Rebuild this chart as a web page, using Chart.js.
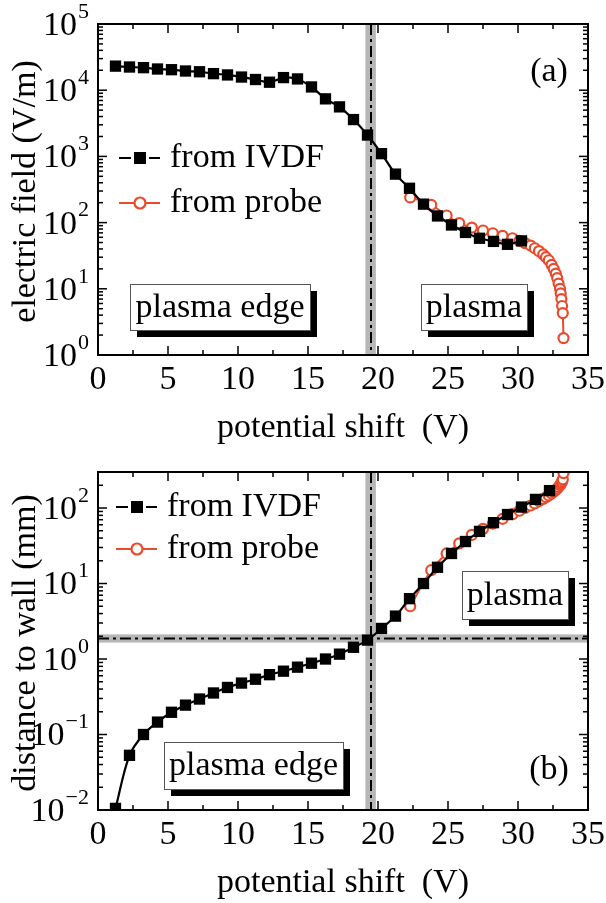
<!DOCTYPE html>
<html>
<head>
<meta charset="utf-8">
<title>electric field and distance to wall vs potential shift</title>
<script src="https://cdn.jsdelivr.net/npm/chart.js@4.4.1/dist/chart.umd.min.js"></script>
<style>
  html, body { margin: 0; padding: 0; background: #fff; }
  canvas { display: block; }
</style>
</head>
<body>
<canvas id="chartA" width="606" height="450"></canvas>
<canvas id="chartB" width="606" height="453"></canvas>
<script>
// ---- data ----
// (a) electric field from the IVDF
const ivdfShiftA = [1.25, 2.25, 3.25, 4.25, 5.25, 6.25, 7.25, 8.25, 9.25, 10.25,
  11.25, 12.25, 13.25, 14.25, 15.25, 16.25, 17.25, 18.25, 19.25, 20.25,
  21.25, 22.25, 23.25, 24.25, 25.25, 26.25, 27.25, 28.25, 29.25, 30.25];
const ivdfField = [23100, 22400, 21900, 20900, 20400, 19500, 19000, 17800, 17000, 15800,
  14500, 13200, 15500, 14800, 11200, 7400, 5600, 3600, 2100, 1100,
  540, 330, 190, 126, 92, 71, 58, 52, 47, 53];

// (b) distance to wall from the IVDF
const ivdfShiftB = [1.25, 2.25, 3.25, 4.25, 5.25, 6.25, 7.25, 8.25, 9.25, 10.25,
  11.25, 12.25, 13.25, 14.25, 15.25, 16.25, 17.25, 18.25, 19.25, 20.25,
  21.25, 22.25, 23.25, 24.25, 25.25, 26.25, 27.25, 28.25, 29.25, 30.25,
  31.25, 32.25];
const ivdfDist = [0.0105, 0.053, 0.10, 0.146, 0.197, 0.245, 0.295, 0.355, 0.42, 0.48,
  0.54, 0.62, 0.69, 0.78, 0.88, 1.0, 1.16, 1.43, 1.78, 2.54,
  3.7, 6.3, 10, 16.4, 25, 36, 49, 64, 82, 103,
  130, 170];

// probe data (same potential shift for both panels)
const probeShift = [22.3, 23.8, 24.9, 25.8, 26.7, 27.5, 28.2, 28.9, 29.6, 30.1,
  30.5, 30.9, 31.2, 31.5, 31.8, 32.0, 32.2, 32.4, 32.55, 32.7,
  32.8, 32.9, 33.0, 33.05, 33.1, 33.15, 33.2, 33.25];
const probeField = [240, 185, 128, 98, 84, 76, 69, 63, 58, 53,
  49, 45, 41, 37, 33, 30, 27, 23, 20, 17,
  14.5, 12, 10, 8.5, 7, 5.5, 4.3, 1.8];
const probeDist = [5.0, 15, 25, 34, 44, 53, 62, 72, 83, 92,
  100, 108, 115, 123, 132, 139, 147, 156, 164, 173,
  181, 190, 200, 208, 216, 226, 240, 290];

// sheath edge markers
const edgeShift = 19.5;
const edgeShiftBand = [19.1, 19.85];
const edgeDist = 1.87;
const edgeDistBand = [1.65, 2.12];

const xTickLabels = [0, 5, 10, 15, 20, 25, 30, 35];
const fieldDecades = [0, 1, 2, 3, 4, 5];
const distDecades = [-2, -1, 0, 1, 2];

// ---- drawing ----
const FONT = '"Liberation Serif", "Times New Roman", serif';
const RED = '#ea4a2c';
const BAND = '#b7b7b7';

const pts = (xs, ys) => xs.map((x, i) => ({x: x, y: ys[i]}));

function seg(ctx, x1, y1, x2, y2) {
  ctx.beginPath(); ctx.moveTo(x1, y1); ctx.lineTo(x2, y2); ctx.stroke();
}

function drawFrame(chart, decades) {
  const {ctx, chartArea: a, scales: {x, y}} = chart;
  ctx.save();
  ctx.strokeStyle = '#000';
  ctx.lineWidth = 1.5;
  for (let v = 0; v <= 35; v += 2.5) {
    const px = x.getPixelForValue(v);
    const len = v % 5 === 0 ? 9 : 5;
    seg(ctx, px, a.bottom, px, a.bottom - len);
    seg(ctx, px, a.top, px, a.top + len);
  }
  const d0 = decades[0], d1 = decades[decades.length - 1];
  for (let d = d0; d <= d1 + 1; d++) {
    for (let m = 1; m <= 9; m++) {
      const v = m * Math.pow(10, d);
      if (v < y.min * 0.999 || v > y.max * 1.001) continue;
      const py = y.getPixelForValue(v);
      const len = m === 1 ? 9 : 5;
      seg(ctx, a.left, py, a.left + len, py);
      seg(ctx, a.right, py, a.right - len, py);
    }
  }
  ctx.lineWidth = 2;
  ctx.strokeRect(a.left, a.top, a.right - a.left, a.bottom - a.top);

  // tick labels
  ctx.fillStyle = '#000';
  ctx.font = '34px ' + FONT;
  ctx.textAlign = 'center';
  ctx.textBaseline = 'middle';
  xTickLabels.forEach(v => {
    ctx.fillText(String(v), x.getPixelForValue(v), a.bottom + 25);
  });
  decades.forEach(d => {
    const py = y.getPixelForValue(Math.pow(10, d));
    const sup = d < 0 ? '\u2212' + (-d) : String(d);
    ctx.font = '22px ' + FONT;
    const sw = ctx.measureText(sup).width;
    const right = a.left - 9;
    ctx.textAlign = 'left';
    ctx.fillText(sup, right - sw, py - 12);
    ctx.font = '34px ' + FONT;
    ctx.textAlign = 'right';
    ctx.fillText('10', right - sw - 1, py + 2);
  });
  ctx.restore();
}

function drawTitles(chart, yTitle) {
  const {ctx, chartArea: a} = chart;
  ctx.save();
  ctx.fillStyle = '#000';
  ctx.font = '34px ' + FONT;
  ctx.textAlign = 'center';
  ctx.textBaseline = 'middle';
  ctx.fillText('potential shift  (V)', (a.left + a.right) / 2, a.bottom + 73);
  ctx.translate(26, (a.top + a.bottom) / 2 + 2);
  ctx.rotate(-Math.PI / 2);
  ctx.fillText(yTitle, 0, 0);
  ctx.restore();
}

function textBox(ctx, x1, y1, x2, y2, text) {
  ctx.save();
  ctx.fillStyle = '#000';
  ctx.fillRect(x1 + 7, y1 + 7, x2 - x1, y2 - y1);
  ctx.fillStyle = '#fff';
  ctx.fillRect(x1, y1, x2 - x1, y2 - y1);
  ctx.strokeStyle = '#555';
  ctx.lineWidth = 1;
  ctx.strokeRect(x1 + 0.5, y1 + 0.5, x2 - x1, y2 - y1);
  ctx.fillStyle = '#000';
  ctx.font = '34px ' + FONT;
  ctx.textAlign = 'center';
  ctx.textBaseline = 'middle';
  ctx.fillText(text, (x1 + x2) / 2, (y1 + y2) / 2 + 1);
  ctx.restore();
}

function legend(ctx, x, y1, y2) {
  ctx.save();
  ctx.lineWidth = 2;
  ctx.strokeStyle = '#000';
  seg(ctx, x, y1, x + 12, y1);
  seg(ctx, x + 30, y1, x + 41, y1);
  ctx.fillStyle = '#000';
  ctx.fillRect(x + 15, y1 - 6, 12, 12);
  ctx.strokeStyle = RED;
  seg(ctx, x, y2, x + 41, y2);
  ctx.beginPath();
  ctx.arc(x + 21, y2, 5.5, 0, Math.PI * 2);
  ctx.fillStyle = '#fff';
  ctx.fill();
  ctx.lineWidth = 2.2;
  ctx.stroke();
  ctx.fillStyle = '#000';
  ctx.font = '34px ' + FONT;
  ctx.textAlign = 'left';
  ctx.textBaseline = 'middle';
  ctx.fillText('from IVDF', x + 51, y1);
  ctx.fillText('from probe', x + 51, y2);
  ctx.restore();
}

function dashLine(ctx, x1, y1, x2, y2) {
  ctx.save();
  ctx.strokeStyle = '#000';
  ctx.lineWidth = 2;
  ctx.setLineDash([11, 4, 3, 4]);
  seg(ctx, x1, y1, x2, y2);
  ctx.restore();
}

const edgePlugin = {
  id: 'edgeMarks',
  beforeDatasetsDraw(chart, args, opts) {
    const {ctx, chartArea: a, scales: {x, y}} = chart;
    ctx.save();
    ctx.fillStyle = BAND;
    const b1 = x.getPixelForValue(edgeShiftBand[0]);
    const b2 = x.getPixelForValue(edgeShiftBand[1]);
    ctx.fillRect(b1, a.top, b2 - b1, a.bottom - a.top);
    if (opts.horizontal) {
      const h1 = y.getPixelForValue(edgeDistBand[1]);
      const h2 = y.getPixelForValue(edgeDistBand[0]);
      ctx.fillRect(a.left, h1, a.right - a.left, h2 - h1);
    }
    ctx.restore();
    const px = x.getPixelForValue(edgeShift);
    dashLine(ctx, px, a.top, px, a.bottom);
    if (opts.horizontal) {
      const py = y.getPixelForValue(edgeDist);
      dashLine(ctx, a.left, py, a.right, py);
    }
  }
};

const decorA = {
  id: 'decorA',
  afterDraw(chart) {
    const ctx = chart.ctx;
    drawFrame(chart, fieldDecades);
    drawTitles(chart, 'electric field (V/m)');
    legend(ctx, 119, 158, 203);
    textBox(ctx, 130, 284, 310, 330, 'plasma edge');
    textBox(ctx, 421, 284, 527, 330, 'plasma');
    ctx.save();
    ctx.font = '34px ' + FONT;
    ctx.textAlign = 'center';
    ctx.textBaseline = 'middle';
    ctx.fillStyle = '#000';
    ctx.fillText('(a)', 549, 72);
    ctx.restore();
  }
};

const decorB = {
  id: 'decorB',
  afterDraw(chart) {
    const ctx = chart.ctx;
    drawFrame(chart, distDecades);
    drawTitles(chart, 'distance to wall (mm)');
    legend(ctx, 116, 57, 99);
    textBox(ctx, 164, 292, 343, 339, 'plasma edge');
    textBox(ctx, 462, 121, 568, 169, 'plasma');
    ctx.save();
    ctx.font = '34px ' + FONT;
    ctx.textAlign = 'center';
    ctx.textBaseline = 'middle';
    ctx.fillStyle = '#000';
    ctx.fillText('(b)', 549, 320);
    ctx.restore();
  }
};

function makeChart(id, ivdf, probe, yMin, yMax, pad, horizontal, decor) {
  return new Chart(document.getElementById(id), {
    type: 'line',
    data: {
      datasets: [
        {
          label: 'from IVDF',
          data: ivdf,
          borderColor: '#000',
          backgroundColor: '#000',
          borderWidth: 2.2,
          pointStyle: 'rect',
          pointRadius: 8,
          pointBorderWidth: 0,
          tension: 0.35
        },
        {
          label: 'from probe',
          data: probe,
          borderColor: RED,
          backgroundColor: '#fff',
          borderWidth: 2,
          pointStyle: 'circle',
          pointRadius: 5,
          pointBorderWidth: 2.2,
          cubicInterpolationMode: 'monotone'
        }
      ]
    },
    options: {
      responsive: false,
      animation: false,
      devicePixelRatio: 1,
      layout: { padding: pad },
      scales: {
        x: { type: 'linear', min: 0, max: 35, display: false },
        y: { type: 'logarithmic', min: yMin, max: yMax, display: false }
      },
      plugins: {
        legend: { display: false },
        tooltip: { enabled: false },
        edgeMarks: { horizontal: horizontal }
      }
    },
    plugins: [edgePlugin, decor]
  });
}

const chartA = makeChart('chartA', pts(ivdfShiftA, ivdfField), pts(probeShift, probeField),
  1, 1e5, {left: 98, top: 24, right: 18, bottom: 95}, false, decorA);
const chartB = makeChart('chartB', pts(ivdfShiftB, ivdfDist), pts(probeShift, probeDist),
  0.01, 300, {left: 98, top: 22, right: 18, bottom: 93}, true, decorB);
</script>
</body>
</html>
